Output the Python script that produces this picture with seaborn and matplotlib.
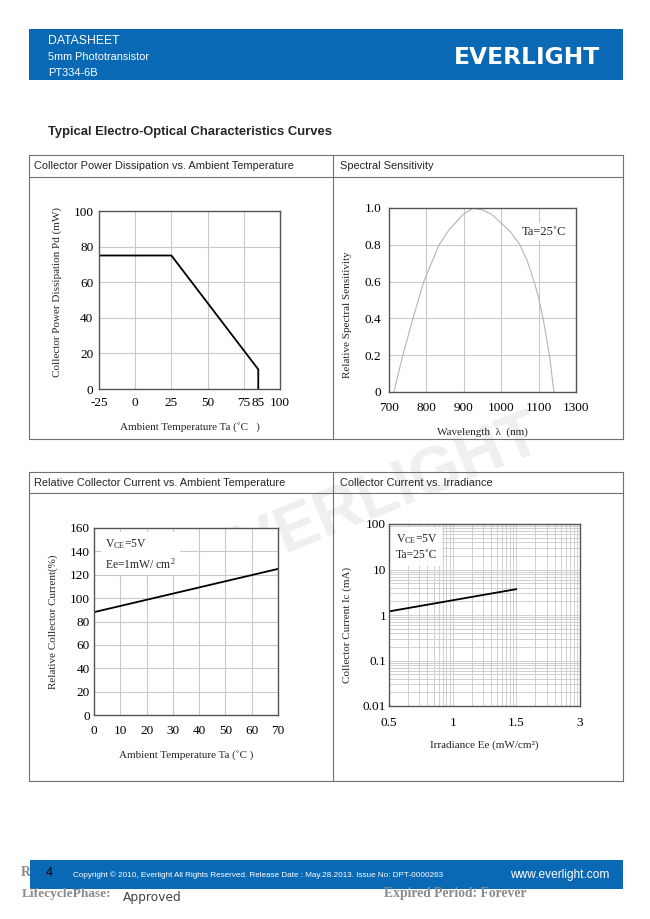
import matplotlib
matplotlib.use("Agg")
import numpy as np
import pandas as pd
import seaborn as sns
import matplotlib.pyplot as plt
from matplotlib.patches import Rectangle
from matplotlib.lines import Line2D
from matplotlib.ticker import LogLocator, NullFormatter, FixedLocator

# ---------------- data ----------------
# Chart 1: Collector power dissipation vs ambient temperature
pd_temp = [-25, 25, 85, 85]
pd_power = [75, 75, 11, 0]
pd_xticks = [-25, 0, 25, 50, 75, 85, 100]
pd_xgrid = [0, 25, 50, 75]
pd_yticks = [0, 20, 40, 60, 80, 100]

# Chart 2: Spectral sensitivity
ss_wavelength = [713, 737, 764, 793, 834, 860, 898, 925, 950, 975, 999, 1025,
                 1050, 1070, 1088, 1099, 1112, 1129, 1141]
ss_sens = [0, 0.2, 0.4, 0.6, 0.8, 0.88, 0.965, 1.0, 0.99, 0.965, 0.92, 0.87,
           0.8, 0.71, 0.6, 0.52, 0.4, 0.2, 0]
ss_xticks = [700, 800, 900, 1000, 1100, 1200]
ss_xticklabels = ["700", "800", "900", "1000", "1100", "1300"]
ss_yticks = [0, 0.2, 0.4, 0.6, 0.8, 1.0]
ss_yticklabels = ["0", "0.2", "0.4", "0.6", "0.8", "1.0"]

# Chart 3: Relative collector current vs ambient temperature
rc_temp = [0, 70]
rc_current = [88, 125]
rc_xticks = [0, 10, 20, 30, 40, 50, 60, 70]
rc_yticks = [0, 20, 40, 60, 80, 100, 120, 140, 160]

# Chart 4: Collector current vs irradiance (log-decade axis, labelled as in the sheet)
irr_decades = [1, 10, 100, 1000]
irr_ticklabels = ["0.5", "1", "1.5", "3"]
ic_irr = [1, 100]
ic_current = [1.2, 3.7]
ic_yticks = [0.01, 0.1, 1, 10, 100]
ic_yticklabels = ["0.01", "0.1", "1", "10", "100"]

# ---------------- setup ----------------
sns.set_theme(style="white")
plt.rcParams["font.family"] = ["Liberation Serif", "DejaVu Serif"]
plt.rcParams["mathtext.fontset"] = "custom"
plt.rcParams["mathtext.rm"] = "Liberation Serif"
plt.rcParams["mathtext.it"] = "Liberation Serif"

W, H = 650, 919
fig = plt.figure(figsize=(6.5, 9.19), dpi=100)
fig.patch.set_facecolor("white")

def fx(x):
    return x / W

def fy(y):
    return 1 - y / H

def add_ax(l, t, r, b):
    return fig.add_axes([fx(l), fy(b), (r - l) / W, (b - t) / H])

SANS = ["Liberation Sans", "DejaVu Sans"]
SERIF = ["Liberation Serif", "DejaVu Serif"]
BLUE = "#0a69b5"
GRID = "#c9c9c9"
SPINE = "#555555"
TICKFS = 9.5
LABFS = 8

L, R = 29, 623

# watermark (behind everything)
fig.text(fx(370), fy(500), "EVERLIGHT", fontsize=46, fontweight="bold",
         family=SANS, color="#efefef", rotation=22, ha="center", va="center",
         zorder=-5)

# ---------------- header / footer ----------------
fig.add_artist(Rectangle((fx(L), fy(80)), (R - L) / W, 51 / H, transform=fig.transFigure,
                         facecolor=BLUE, edgecolor="none", zorder=1))
fig.text(fx(48), fy(41), "DATASHEET", color="white", fontsize=8.8, family=SANS,
         va="center", zorder=2)
fig.text(fx(48), fy(57), "5mm Phototransistor", color="white", fontsize=7.8,
         family=SANS, va="center", zorder=2)
fig.text(fx(48), fy(73), "PT334-6B", color="white", fontsize=7.9, family=SANS,
         va="center", zorder=2)
fig.text(fx(527), fy(57), "EVERLIGHT", color="white", fontsize=16.8,
         fontweight="bold", family=["DejaVu Sans"], ha="center", va="center", zorder=2)

fig.text(fx(48), fy(132), "Typical Electro-Optical Characteristics Curves",
         fontsize=9.4, fontweight="bold", family=SANS, va="center")

# footer
fig.text(fx(21), fy(873), "R", color="#8a8a8a", fontsize=10, fontweight="bold",
         family=SERIF, va="center", zorder=0.5)
fig.add_artist(Rectangle((fx(L + 1), fy(889)), (R - L - 1) / W, 29 / H, transform=fig.transFigure,
                         facecolor=BLUE, edgecolor="none", zorder=1))
fig.text(fx(46), fy(873), "4", color="black", fontsize=9, family=SANS,
         va="center", zorder=2)
fig.text(fx(73), fy(875),
         "Copyright \u00a9 2010, Everlight All Rights Reserved. Release Date : May.28.2013. Issue No: DPT-0000263",
         color="white", fontsize=5.85, family=SANS, va="center", zorder=2)
fig.text(fx(609), fy(875), "www.everlight.com", color="white", fontsize=8.6,
         family=SANS, ha="right", va="center", zorder=2)
fig.text(fx(22), fy(894), "LifecyclePhase:", color="#8a8a8a", fontsize=9.6,
         fontweight="bold", family=SERIF, va="center")
fig.text(fx(123), fy(897), "Approved", color="#444444", fontsize=8.8,
         family=["DejaVu Sans"], va="center")
fig.text(fx(384), fy(894), "Expired Period: Forever", color="#8a8a8a",
         fontsize=9.8, fontweight="bold", family=SERIF, va="center")

# ---------------- tables ----------------
def hline(y, x0=L, x1=R):
    fig.add_artist(Line2D([fx(x0), fx(x1)], [fy(y), fy(y)], transform=fig.transFigure,
                          color="#707070", lw=0.8, zorder=1))

def vline(x, y0, y1):
    fig.add_artist(Line2D([fx(x), fx(x)], [fy(y0), fy(y1)], transform=fig.transFigure,
                          color="#707070", lw=0.8, zorder=1))

for top, mid, bot in [(155, 177, 439), (472, 493, 781)]:
    hline(top); hline(mid); hline(bot)
    vline(L, top, bot); vline(333, top, bot); vline(R, top, bot)

HFS = 7.9
fig.text(fx(34), fy(166), "Collector Power Dissipation vs. Ambient Temperature",
         fontsize=HFS, family=SANS, va="center")
fig.text(fx(340), fy(166), "Spectral Sensitivity", fontsize=HFS, family=SANS, va="center")
fig.text(fx(34), fy(483), "Relative Collector Current vs. Ambient Temperature",
         fontsize=HFS, family=SANS, va="center")
fig.text(fx(340), fy(483), "Collector Current vs. Irradiance", fontsize=HFS,
         family=SANS, va="center")

def style_ax(ax):
    ax.set_facecolor("white")
    for s in ax.spines.values():
        s.set_color(SPINE)
        s.set_linewidth(1.0)
        s.set_visible(True)
    ax.set_zorder(2)

# ---------------- chart 1 ----------------
ax1 = add_ax(99, 211, 280, 389)
style_ax(ax1)
df1 = pd.DataFrame({"temp": pd_temp, "power": pd_power})
sns.lineplot(data=df1, x="temp", y="power", ax=ax1, color="black", lw=1.3,
             sort=False, estimator=None)
ax1.set_xlim(-25, 100)
ax1.set_ylim(0, 100)
ax1.set_xticks(pd_xticks)
ax1.set_xticklabels([str(v) for v in pd_xticks])
ax1.set_yticks(pd_yticks)
for v in pd_xgrid:
    ax1.axvline(v, color=GRID, lw=0.8, zorder=0)
for v in pd_yticks[1:-1]:
    ax1.axhline(v, color=GRID, lw=0.8, zorder=0)
ax1.tick_params(axis="both", length=0, labelsize=TICKFS, colors="black")
ax1.tick_params(axis="y", pad=4)
ax1.tick_params(axis="x", pad=5.5)
ax1.set_xlabel("Ambient Temperature Ta (\u02daC   )", fontsize=LABFS)
ax1.set_ylabel("Collector Power Dissipation Pd (mW)", fontsize=LABFS)
ax1.xaxis.set_label_coords(0.5, -0.185)
ax1.yaxis.set_label_coords(-0.204, 0.545)

# ---------------- chart 2 ----------------
ax2 = add_ax(389, 208, 576, 392)
style_ax(ax2)
df2 = pd.DataFrame({"wl": ss_wavelength, "s": ss_sens})
sns.lineplot(data=df2, x="wl", y="s", ax=ax2, color="#b5b5b5", lw=0.8,
             sort=False, estimator=None)
ax2.set_xlim(700, 1200)
ax2.set_ylim(0, 1.0)
ax2.set_xticks(ss_xticks)
ax2.set_xticklabels(ss_xticklabels)
ax2.set_yticks(ss_yticks)
ax2.set_yticklabels(ss_yticklabels)
for v in ss_xticks[1:-1]:
    ax2.axvline(v, color=GRID, lw=0.8, zorder=0)
for v in ss_yticks[1:-1]:
    ax2.axhline(v, color=GRID, lw=0.8, zorder=0)
ax2.tick_params(axis="both", length=0, labelsize=TICKFS, colors="black")
ax2.tick_params(axis="y", pad=5.5)
ax2.tick_params(axis="x", pad=7.5)
ax2.text(0.95, 0.87, "Ta=25\u02daC", transform=ax2.transAxes, ha="right",
         va="center", fontsize=9,
         bbox=dict(facecolor="white", edgecolor="none", pad=2), zorder=3)
ax2.set_xlabel("Wavelength  \u03bb  (nm)", fontsize=LABFS)
ax2.set_ylabel("Relative Spectral Sensitivity", fontsize=LABFS)
ax2.xaxis.set_label_coords(0.5, -0.19)
ax2.yaxis.set_label_coords(-0.197, 0.42)

# ---------------- chart 3 ----------------
ax3 = add_ax(94, 528, 278, 715)
style_ax(ax3)
df3 = pd.DataFrame({"temp": rc_temp, "cur": rc_current})
sns.lineplot(data=df3, x="temp", y="cur", ax=ax3, color="black", lw=1.3,
             estimator=None)
ax3.set_xlim(0, 70)
ax3.set_ylim(0, 160)
ax3.set_xticks(rc_xticks)
ax3.set_yticks(rc_yticks)
for v in rc_xticks[1:-1]:
    ax3.axvline(v, color=GRID, lw=0.8, zorder=0)
for v in rc_yticks[1:-1]:
    ax3.axhline(v, color=GRID, lw=0.8, zorder=0)
ax3.tick_params(axis="both", length=0, labelsize=TICKFS, colors="black")
ax3.tick_params(axis="y", pad=3)
ax3.tick_params(axis="x", pad=7)
ax3.text(0.06, 0.86, "V$_{\\mathrm{CE}}$=5V\nEe=1mW/ cm$^{2}$", transform=ax3.transAxes,
         ha="left", va="center", fontsize=8.4, linespacing=1.5,
         bbox=dict(facecolor="white", edgecolor="none", pad=3), zorder=3)
ax3.set_xlabel("Ambient Temperature Ta (\u02daC )", fontsize=LABFS)
ax3.set_ylabel("Relative Collector Current(%)", fontsize=LABFS)
ax3.xaxis.set_label_coords(0.5, -0.187)
ax3.yaxis.set_label_coords(-0.196, 0.5)

# ---------------- chart 4 ----------------
ax4 = add_ax(389, 524, 580, 706)
style_ax(ax4)
df4 = pd.DataFrame({"irr": ic_irr, "ic": ic_current})
sns.lineplot(data=df4, x="irr", y="ic", ax=ax4, color="black", lw=1.3,
             estimator=None)
ax4.set_xscale("log")
ax4.set_yscale("log")
ax4.set_xlim(irr_decades[0], irr_decades[-1])
ax4.set_ylim(ic_yticks[0], ic_yticks[-1])
ax4.xaxis.set_major_locator(FixedLocator(irr_decades))
ax4.set_xticklabels(irr_ticklabels)
ax4.yaxis.set_major_locator(FixedLocator(ic_yticks))
ax4.set_yticklabels(ic_yticklabels)
ax4.xaxis.set_minor_locator(LogLocator(base=10, subs=np.arange(2, 10)))
ax4.yaxis.set_minor_locator(LogLocator(base=10, subs=np.arange(2, 10)))
ax4.xaxis.set_minor_formatter(NullFormatter())
ax4.yaxis.set_minor_formatter(NullFormatter())
ax4.grid(True, which="both", color=GRID, lw=0.6)
ax4.set_axisbelow(True)
ax4.tick_params(axis="both", which="both", length=0, labelsize=TICKFS, colors="black")
ax4.tick_params(axis="y", pad=2)
ax4.tick_params(axis="x", pad=8)
ax4.text(0.035, 0.875, "V$_{\\mathrm{CE}}$=5V\nTa=25\u02daC", transform=ax4.transAxes,
         ha="left", va="center", fontsize=8.4, linespacing=1.4,
         bbox=dict(facecolor="white", edgecolor="none", pad=3), zorder=3)
ax4.set_xlabel("Irradiance Ee (mW/cm\u00b2)", fontsize=LABFS)
ax4.set_ylabel("Collector Current Ic (mA)", fontsize=LABFS)
ax4.xaxis.set_label_coords(0.5, -0.187)
ax4.yaxis.set_label_coords(-0.194, 0.445)

fig.savefig("out.png", dpi=100)
